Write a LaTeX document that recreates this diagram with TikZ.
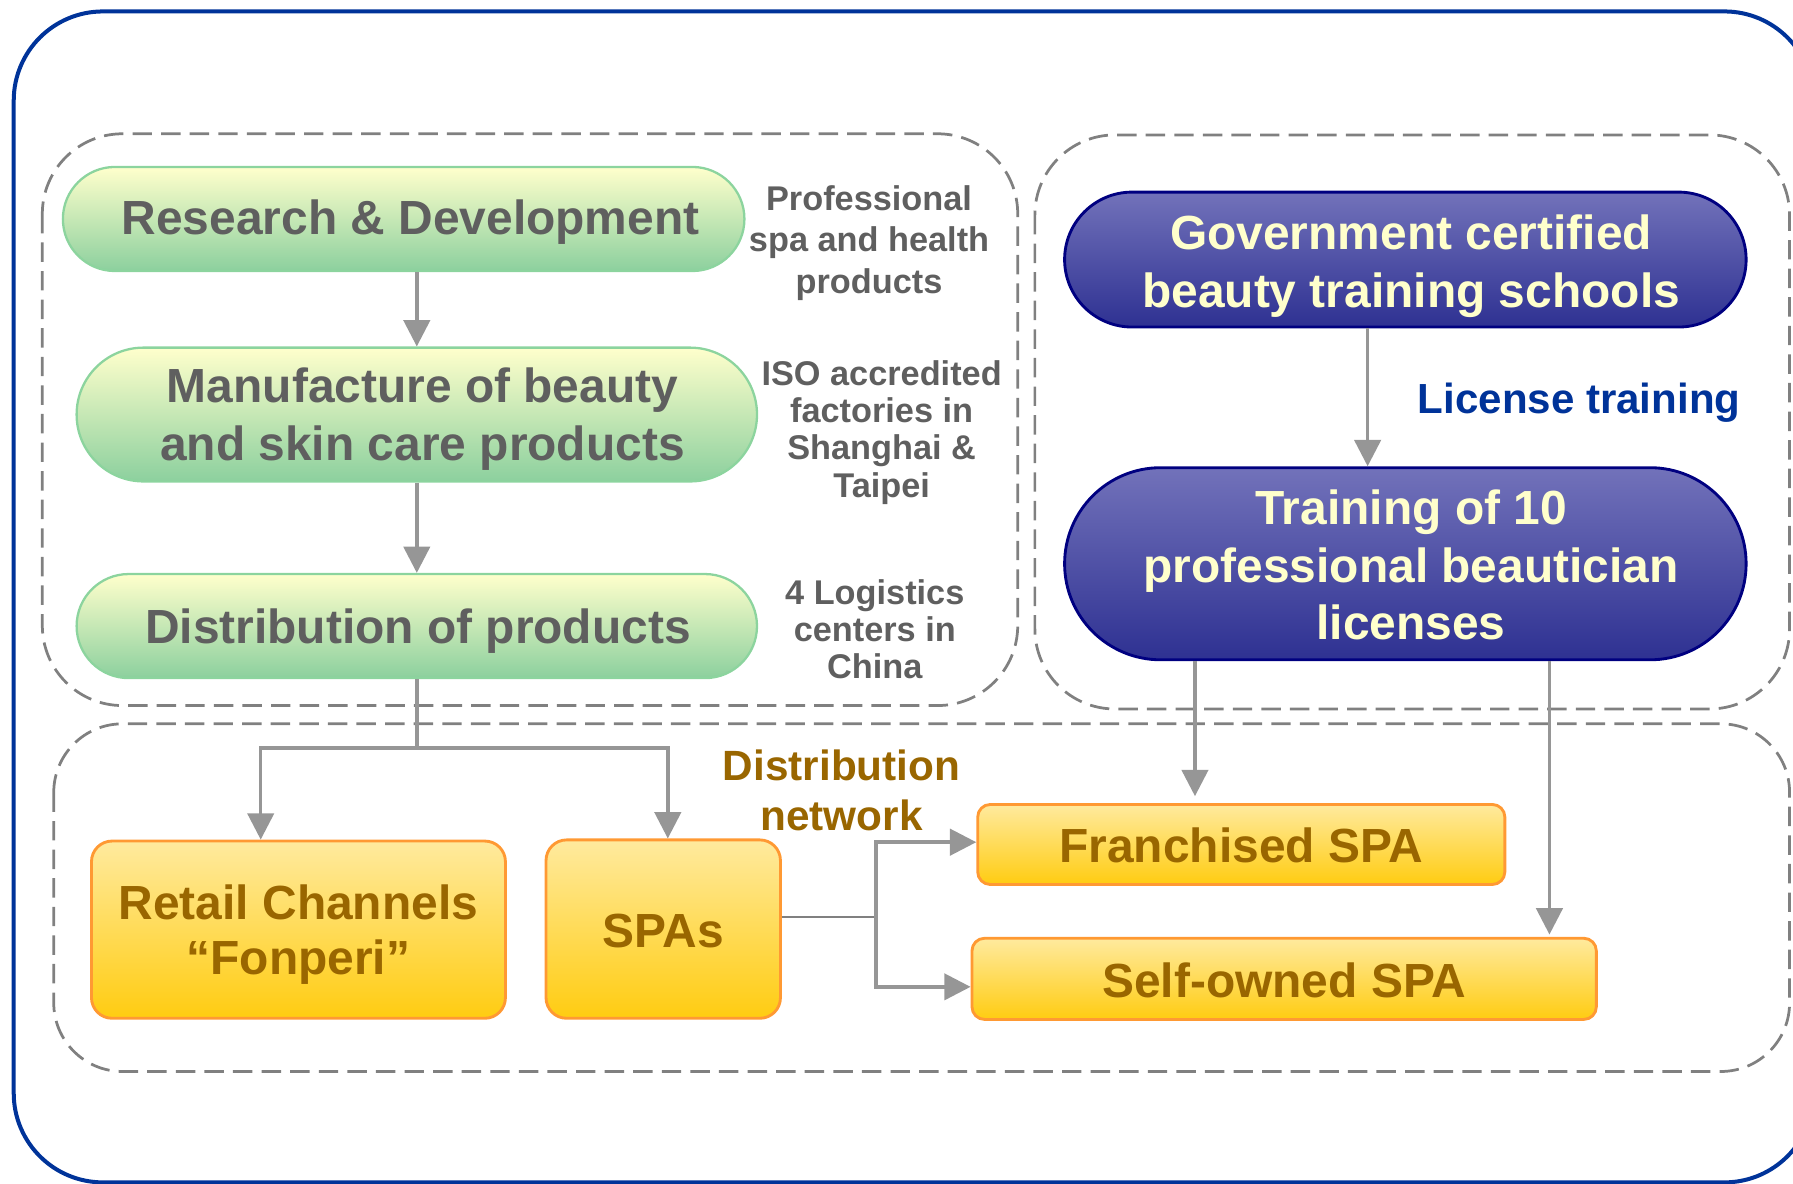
\documentclass[tikz,border=0pt]{standalone}
\usepackage{fontspec}
\setmainfont{Liberation Sans}
\usetikzlibrary{arrows.meta}

\definecolor{frameblue}{RGB}{0,51,153}
\definecolor{dashgray}{RGB}{128,128,128}
\definecolor{conngray}{RGB}{150,150,150}
\definecolor{grntop}{RGB}{255,255,204}
\definecolor{grnbot}{RGB}{140,208,158}
\definecolor{grnline}{RGB}{140,212,158}
\definecolor{txtgray}{RGB}{95,95,95}
\definecolor{blutop}{RGB}{114,114,186}
\definecolor{blubot}{RGB}{46,49,146}
\definecolor{bluline}{RGB}{0,0,128}
\definecolor{blutxt}{RGB}{255,255,204}
\definecolor{orgtop}{RGB}{255,234,158}
\definecolor{orgbot}{RGB}{255,204,17}
\definecolor{orgline}{RGB}{255,153,51}
\definecolor{brown}{RGB}{153,102,0}

\newcommand{\setfs}[2]{\fontsize{#1}{#2}\selectfont}

\tikzset{
  greenpill/.style={draw=grnline, line width=2pt, top color=grntop, bottom color=grnbot, inner sep=0pt},
  bluepill/.style={draw=bluline, line width=2.5pt, top color=blutop, bottom color=blubot, inner sep=0pt},
  orangebox/.style={draw=orgline, line width=2.5pt, top color=orgtop, bottom color=orgbot, inner sep=0pt},
  gtext/.style={text=txtgray, font=\bfseries\setfs{41.9}{50}, align=center, inner sep=0pt},
  btext/.style={text=blutxt, font=\bfseries\setfs{41.9}{50.5}, align=center, inner sep=0pt},
  otext/.style={text=brown, font=\bfseries\setfs{41.9}{48}, align=center, inner sep=0pt},
  note/.style={text=txtgray, align=center, inner sep=0pt},
  conn/.style={draw=conngray, line width=3pt},
  arr/.style={conn, -{Triangle[length=23pt,width=23pt]}},
  groupbox/.style={draw=dashgray, line width=2.4pt, dash pattern=on 17pt off 8pt},
}

\begin{document}
\begin{tikzpicture}[x=1pt,y=-1pt]
\useasboundingbox (0,0) rectangle (1568,1035);
\clip (0,0) rectangle (1568,1035);

% outer frame
\draw[frameblue, line width=3.5pt, rounded corners=78pt] (12,10) rectangle (1586,1034);

% dashed group outlines
\draw[groupbox, rounded corners=70pt] (37,117) rectangle (890,617);
\draw[groupbox, rounded corners=70pt] (905,118) rectangle (1565,620);
\draw[groupbox, rounded corners=60pt] (47,633) rectangle (1565,937);

% product chain
\node[greenpill, minimum width=596pt, minimum height=91pt, rounded corners=45.5pt] (rd) at (353,191.5) {};
\node[gtext] (rd-t) at ([xshift=6pt,yshift=-3pt]rd.center) {Research \& Development};
\node[greenpill, minimum width=595pt, minimum height=117pt, rounded corners=58.5pt] (mf) at (364.5,362.5) {};
\node[gtext] (mf-t) at ([xshift=5pt,yshift=-4pt]mf.center) {Manufacture of beauty\\and skin care products};
\node[greenpill, minimum width=595pt, minimum height=91pt, rounded corners=45.5pt] (ds) at (364.5,547.5) {};
\node[gtext] (ds-t) at ([xshift=1pt,yshift=-4pt]ds.center) {Distribution of products};

\node[note, font=\bfseries\setfs{30}{36.5}] (n1) at (760,212.5) {Professional\\spa and health\\products};
\node[note, font=\bfseries\setfs{30}{32.7}] (n2) at (771,378) {ISO accredited\\factories in\\Shanghai \&\\Taipei};
\node[note, font=\bfseries\setfs{30}{32.5}] (n3) at (765,550.5) {4 Logistics\\centers in\\China};

% training chain
\node[bluepill, minimum width=596pt, minimum height=118pt, rounded corners=59pt] (gov) at (1229,227) {};
\node[btext] (gov-t) at ([xshift=5pt,yshift=-5.5pt]gov.center) {Government certified\\beauty training schools};
\node[bluepill, minimum width=596pt, minimum height=168pt, rounded corners=84pt] (tr) at (1229,493) {};
\node[btext] (tr-t) at ([xshift=5pt,yshift=-1pt]tr.center) {Training of 10\\professional beautician\\licenses};
\node[text=frameblue, font=\bfseries\setfs{36.8}{44}, inner sep=0pt] (lic) at (1381,352) {License training};

% outlets
\node[orangebox, minimum width=362pt, minimum height=155pt, rounded corners=18pt] (retail) at (261,813) {};
\node[otext] (retail-t) at ([yshift=-4.5pt]retail.center) {Retail Channels\\“Fonperi”};
\node[orangebox, minimum width=205pt, minimum height=156pt, rounded corners=18pt] (spas) at (580,812.5) {};
\node[otext] (spas-t) at ([yshift=-2pt]spas.center) {SPAs};
\node[orangebox, minimum width=461pt, minimum height=70pt, rounded corners=11pt] (fr) at (1085.5,738.5) {};
\node[otext] (fr-t) at ([yshift=-1pt]fr.center) {Franchised SPA};
\node[orangebox, minimum width=546pt, minimum height=71pt, rounded corners=11pt] (so) at (1123,856) {};
\node[otext] (so-t) at ([yshift=-1pt]so.center) {Self-owned SPA};
\node[text=brown, align=center, inner sep=0pt, font=\bfseries\setfs{37}{44}] (dn) at (736,691) {Distribution\\network};

% connectors
\draw[arr] (rd.south -| mf.north) -- (mf.north);
\draw[arr] (mf.south) -- (ds.north);
\coordinate (split) at (364.5,654);
\draw[conn] (ds.south) -- (split);
\draw[arr] (split) -| ([xshift=-33pt]retail.north);
\draw[arr] (split) -| ([xshift=4pt]spas.north);

\coordinate (fork) at (766,802);
\draw[draw=dashgray, line width=2.2pt] (spas.east |- fork) -- (fork);
\draw[arr] (fork) |- ([yshift=2pt]fr.west);
\draw[arr] (fork) |- ([yshift=-7pt]so.west);

\draw[arr] ([xshift=-33pt]gov.south) -- ([xshift=-33pt]gov.south |- tr.north);
\draw[arr, shorten >=6pt] ([xshift=-184pt]tr.south) -- ([xshift=-184pt]tr.south |- fr.north);
\draw[arr, shorten >=2pt] ([xshift=126pt]tr.south) -- ([xshift=126pt]tr.south |- so.north);
\end{tikzpicture}
\end{document}
